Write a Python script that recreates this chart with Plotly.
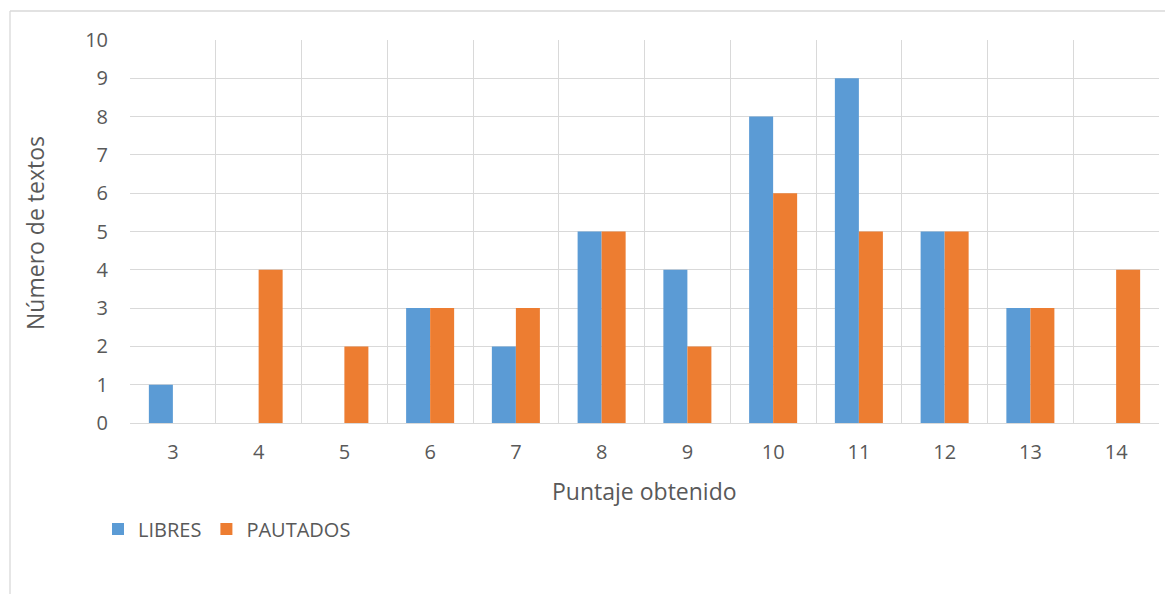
import plotly.graph_objects as go

categories = ["3", "4", "5", "6", "7", "8", "9", "10", "11", "12", "13", "14"]
libres = [1, 0, 0, 3, 2, 5, 4, 8, 9, 5, 3, 0]
pautados = [0, 4, 2, 3, 3, 5, 2, 6, 5, 5, 3, 4]
y_ticks = list(range(0, 11))

FONT = "Open Sans"
TXT = "#595959"
GRID = "#d9d9d9"

fig = go.Figure()
fig.add_trace(go.Bar(x=categories, y=libres, name="LIBRES", marker_color="#5B9BD5", marker_line_width=0))
fig.add_trace(go.Bar(x=categories, y=pautados, name="PAUTADOS", marker_color="#ED7D31", marker_line_width=0))

OFF = 8  # page body margin
W, H = 1173 - OFF, 594 - OFF
L, R, T, B = 130 - OFF, 1159 - OFF, 40 - OFF, 423 - OFF
pw, ph = R - L, B - T

def px(x):
    return (x - OFF - L) / pw

def py(y):
    return (B - (y - OFF)) / ph

fig.update_layout(
    width=W, height=H,
    margin=dict(l=L, r=W - R, t=T, b=H - B, autoexpand=False),
    paper_bgcolor="white", plot_bgcolor="white",
    barmode="group", bargap=0.44, bargroupgap=0,
    font=dict(family=FONT, color=TXT, size=20),
    showlegend=True,
    legend=dict(orientation="h", x=px(98), y=py(529), xanchor="left", yanchor="middle",
                font=dict(size=20, color=TXT), itemwidth=30, traceorder="normal",
                bgcolor="rgba(0,0,0,0)"),
    xaxis=dict(type="category", tickson="boundaries", showgrid=True, gridcolor=GRID, gridwidth=1,
               showline=True, linecolor=GRID, linewidth=1, mirror=False, ticks="",
               ticklabelstandoff=11, tickfont=dict(size=20, color=TXT), automargin=False),
    yaxis=dict(range=[0, 10], tickvals=y_ticks, showgrid=True, gridcolor=GRID, gridwidth=1,
               zeroline=False, showline=False, ticks="", ticklabelstandoff=21,
               tickfont=dict(size=20, color=TXT), automargin=False),
    annotations=[
        dict(text="Número de textos", xref="paper", yref="paper", x=px(35), y=py(233),
             xanchor="center", yanchor="middle", textangle=-90, showarrow=False,
             font=dict(size=23, color=TXT)),
        dict(text="Puntaje obtenido", xref="paper", yref="paper", x=px(644), y=py(491),
             xanchor="center", yanchor="middle", showarrow=False,
             font=dict(size=23, color=TXT)),
    ],
    shapes=[
        dict(type="line", xref="paper", yref="paper", x0=px(10), x1=px(1200), y0=py(11), y1=py(11),
             line=dict(color=GRID, width=1.3)),
        dict(type="line", xref="paper", yref="paper", x0=px(10), x1=px(10), y0=py(11), y1=py(620),
             line=dict(color=GRID, width=1.3)),
    ],
)

fig.write_html("out.html")
